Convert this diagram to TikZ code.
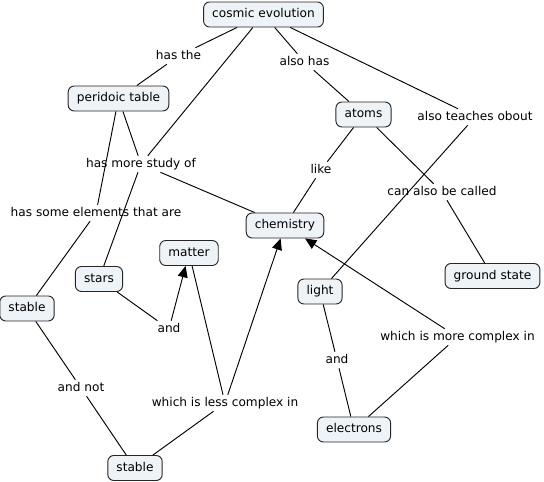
\documentclass[tikz,border=0pt]{standalone}
\usepackage{fontspec}
\setmainfont{DejaVu Sans}
\usetikzlibrary{arrows.meta}
\definecolor{nodefill}{RGB}{237,243,246}
\begin{document}
\begin{tikzpicture}[x=0.75pt,y=-0.75pt,
  concept/.style={draw=black!85, line width=0.7pt, fill=nodefill, rounded corners=4.5pt,
    inner xsep=6.5pt, inner ysep=3pt, minimum height=18.75pt,
    text height=7pt, text depth=2pt, font=\fontsize{9.1}{11}\selectfont},
  linklabel/.style={inner sep=1.5pt, text height=7pt, text depth=2pt, font=\fontsize{9.1}{11}\selectfont},
  conn/.style={draw=black, line width=0.7pt},
  arr/.style={conn, -{Triangle[length=8.5pt,width=7.5pt]}}]
\useasboundingbox (0,0) rectangle (544,482);
% concepts
\node[concept] (cosmic) at (263.5,14.5) {cosmic evolution};
\node[concept] (peri) at (118.5,98.5) {peridoic table};
\node[concept] (atoms) at (363.5,114.5) {atoms};
\node[concept] (chem) at (285,225.5) {chemistry};
\node[concept] (matter) at (189,253) {matter};
\node[concept] (stars) at (99,279) {stars};
\node[concept] (stableL) at (27,308.5) {stable};
\node[concept] (stableB) at (135,468) {stable};
\node[concept] (light) at (320,291.5) {light};
\node[concept] (ground) at (492.5,276) {ground state};
\node[concept] (electrons) at (354,429.5) {electrons};
% link labels
\node[linklabel] (lhas) at (178.5,56) {has the};
\node[linklabel] (lalso) at (304.5,62) {also has};
\node[linklabel] (lteach) at (475,117) {also teaches obout};
\node[linklabel] (lmore) at (141,164) {has more study of};
\node[linklabel] (llike) at (321,170) {like};
\node[linklabel] (lcalled) at (442,192) {can also be called};
\node[linklabel] (lsome) at (96,213) {has some elements that are};
\node[linklabel] (land1) at (169,329) {and};
\node[linklabel] (lmorec) at (457.5,337) {which is more complex in};
\node[linklabel] (landnot) at (81,388) {and not};
\node[linklabel] (land2) at (337,360) {and};
\node[linklabel] (lless) at (225,403) {which is less complex in};
% connectors
\draw[conn] (cosmic) -- (lhas);
\draw[conn] (lhas) -- (peri);
\draw[conn] (cosmic) -- (lalso);
\draw[conn] (lalso) -- (atoms);
\draw[conn] (cosmic) -- (lteach);
\draw[conn] (lteach) -- (light);
\draw[conn] (cosmic) -- (lmore);
\draw[conn] (peri) -- (lmore);
\draw[conn] (lmore) -- (chem);
\draw[conn] (lmore) -- (stars);
\draw[conn] (peri) -- (lsome);
\draw[conn] (lsome) -- (stableL);
\draw[conn] (atoms) -- (llike);
\draw[conn] (llike) -- (chem);
\draw[conn] (atoms) -- (lcalled);
\draw[conn] (lcalled) -- (ground);
\draw[conn] (stars) -- (land1);
\draw[arr] (land1) -- (matter);
\draw[conn] (stableL) -- (landnot);
\draw[conn] (landnot) -- (stableB);
\draw[conn] (matter) -- (lless);
\draw[conn] (stableB) -- (lless);
\draw[arr] (lless) -- (chem);
\draw[conn] (light) -- (land2);
\draw[conn] (land2) -- (electrons);
\draw[conn] (electrons) -- (lmorec);
\draw[arr] (lmorec) -- (chem);
\end{tikzpicture}
\end{document}
